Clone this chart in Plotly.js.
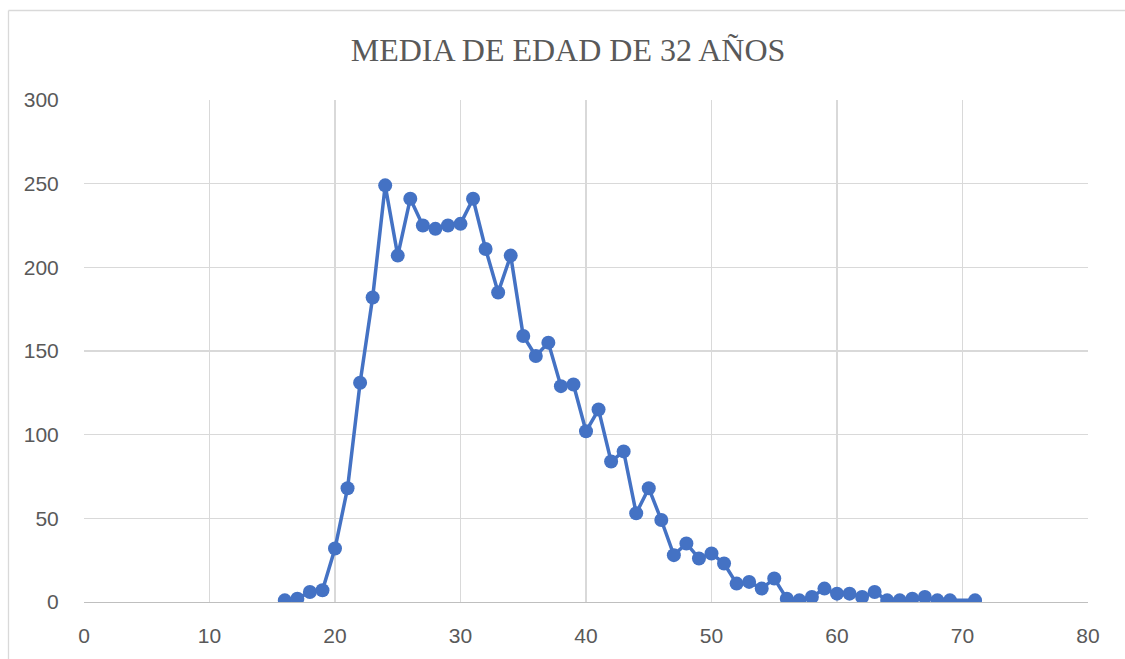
<!DOCTYPE html>
<html>
<head>
<meta charset="utf-8">
<script src="https://cdn.plot.ly/plotly-3.0.1.min.js"></script>
<style>html,body{margin:0;padding:0;background:#fff;}#chart{width:1125px;height:659px;}</style>
</head>
<body>
<div id="chart"></div>
<script>
const edades = [16,17,18,19,20,21,22,23,24,25,26,27,28,29,30,31,32,33,34,35,36,37,38,39,40,41,42,43,44,45,46,47,48,49,50,51,52,53,54,55,56,57,58,59,60,61,62,63,64,65,66,67,68,69,71];
const frecuencias = [1,2,6,7,32,68,131,182,249,207,241,225,223,225,226,241,211,185,207,159,147,155,129,130,102,115,84,90,53,68,49,28,35,26,29,23,11,12,8,14,2,1,3,8,5,5,3,6,1,1,2,3,1,1,1];
const titulo = "MEDIA DE EDAD DE 32 AÑOS";

const L = 84, R = 1088, T = 100, B = 602;
const px = v => (v - L) / (R - L);
const py = v => (B - v) / (B - T);
const tf = {family: 'Liberation Sans, Arial, sans-serif', size: 21, color: '#595959'};

Plotly.newPlot('chart', [{
  x: edades, y: frecuencias, type: 'scatter', mode: 'lines+markers',
  line: {color: '#4472C4', width: 3.5},
  marker: {color: '#4472C4', size: 14},
  hoverinfo: 'x+y'
}], {
  width: 1125, height: 659,
  margin: {l: L, r: 1125 - R, t: T, b: 659 - B, pad: 0},
  paper_bgcolor: '#ffffff', plot_bgcolor: '#ffffff',
  showlegend: false,
  title: {text: titulo, x: 568/1125, xref: 'container', xanchor: 'center', y: 1 - 50/659, yref: 'container', yanchor: 'middle',
          font: {family: 'Liberation Serif, serif', size: 32, color: '#595959'}},
  xaxis: {range: [0, 80], dtick: 10, tick0: 0, showgrid: true, gridcolor: '#d9d9d9', gridwidth: 1.3,
          zeroline: false, showline: true, linecolor: '#bfbfbf', linewidth: 1.3, ticks: 'outside', ticklen: 14, tickcolor: 'rgba(0,0,0,0)',
          tickfont: tf, fixedrange: true},
  yaxis: {range: [0, 300], dtick: 50, tick0: 0, showgrid: true, gridcolor: '#d9d9d9', gridwidth: 1.3,
          zeroline: false, showline: false, ticks: 'outside', ticklen: 20, tickcolor: 'rgba(0,0,0,0)',
          tickfont: tf, fixedrange: true},
  shapes: [
    {type: 'line', xref: 'paper', yref: 'paper', x0: px(8.5), x1: px(8.5), y0: py(10.5), y1: py(700), line: {color: '#d9d9d9', width: 1.3}, layer: 'below'},
    {type: 'line', xref: 'paper', yref: 'paper', x0: px(8.5), x1: px(1130), y0: py(10.5), y1: py(10.5), line: {color: '#d9d9d9', width: 1.3}, layer: 'below'}
  ]
}, {displayModeBar: false, staticPlot: true});
</script>
</body>
</html>
